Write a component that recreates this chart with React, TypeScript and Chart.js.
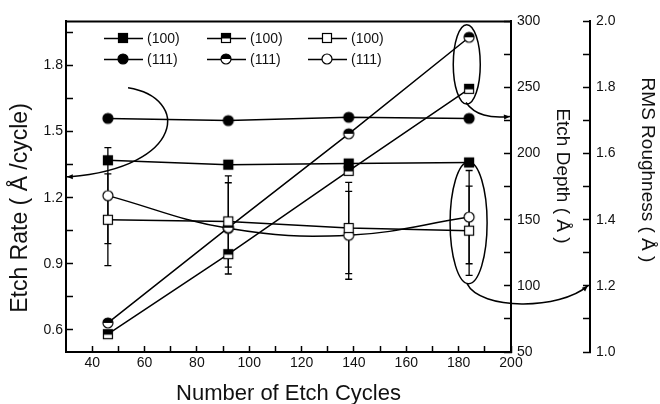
import React, { useEffect, useRef } from 'react';
import { Chart, registerables } from 'chart.js';

Chart.register(...registerables);

// ---------- data ----------
const cycles = [46, 92, 138, 184];
const rate100 = [1.37, 1.35, 1.355, 1.36];
const rate111 = [1.56, 1.55, 1.565, 1.56];
const depth100 = [63.5, 124, 187, 249];
const depth111 = [72, 144, 215, 288];
const rms100 = [1.4, 1.395, 1.375, 1.367];
const rms100Err = [0.139, 0.138, 0.138, 0.135];
const rms111 = [1.473, 1.374, 1.353, 1.408];
const rms111Err = [0.145, 0.138, 0.133, 0.141];

const seriesLabels = ['(100)', '(111)'];

const xMajorTicks = [40, 60, 80, 100, 120, 140, 160, 180, 200];
const xMinorTicks = [50, 70, 90, 110, 130, 150, 170, 190];
const rateMajorTicks = [0.6, 0.9, 1.2, 1.5, 1.8];
const rateMinorTicks = [0.75, 1.05, 1.35, 1.65, 1.95];
const depthMajorTicks = [50, 100, 150, 200, 250, 300];
const depthMinorTicks = [75, 125, 175, 225, 275];
const rmsMajorTicks = [1.0, 1.2, 1.4, 1.6, 1.8, 2.0];
const rmsMinorTicks = [1.1, 1.3, 1.5, 1.7, 1.9];

const xTitle = 'Number of Etch Cycles';
const rateTitle = 'Etch Rate ( Å /cycle)';
const depthTitle = 'Etch Depth ( Å )';
const rmsTitle = 'RMS Roughness ( Å )';

const FONT = '"Liberation Sans", Arial, Helvetica, sans-serif';
const INK = '#111';

// ---------- markers ----------
function makeMarker(kind: string): HTMLCanvasElement {
  const c = document.createElement('canvas');
  c.width = 14;
  c.height = 14;
  const g = c.getContext('2d')!;
  g.lineWidth = 1.2;
  g.strokeStyle = '#000';
  if (kind.startsWith('sq')) {
    g.fillStyle = '#fff';
    g.fillRect(2, 2, 10, 10);
    g.fillStyle = '#000';
    if (kind === 'sqFilled') g.fillRect(2, 2, 10, 10);
    if (kind === 'sqHalf') g.fillRect(2, 2, 10, 5.5);
    g.strokeRect(2.5, 2.5, 9, 9);
  } else {
    g.beginPath();
    g.arc(7, 7, 5, 0, Math.PI * 2);
    g.fillStyle = kind === 'ciFilled' ? '#000' : '#fff';
    g.fill();
    if (kind === 'ciHalf') {
      g.beginPath();
      g.arc(7, 7, 5, Math.PI, 0);
      g.closePath();
      g.fillStyle = '#000';
      g.fill();
    }
    g.beginPath();
    g.arc(7, 7, 5, 0, Math.PI * 2);
    g.stroke();
  }
  return c;
}

function tickSetup(major: number[], minor: number[], fmt: (v: number) => string) {
  return {
    afterBuildTicks: (axis: any) => {
      axis.ticks = [...major, ...minor].sort((a, b) => a - b).map((v) => ({ value: v }));
    },
    callback: (value: number) =>
      major.some((m) => Math.abs(m - value) < 1e-9) ? fmt(value) : '',
  };
}

function arrowHead(ctx: CanvasRenderingContext2D, x: number, y: number, ang: number, len = 7, half = 3) {
  ctx.beginPath();
  ctx.moveTo(x, y);
  ctx.lineTo(x - len * Math.cos(ang) + half * Math.sin(ang), y - len * Math.sin(ang) - half * Math.cos(ang));
  ctx.lineTo(x - len * Math.cos(ang) - half * Math.sin(ang), y - len * Math.sin(ang) + half * Math.cos(ang));
  ctx.closePath();
  ctx.fill();
}

const errorBarPlugin = {
  id: 'errorBars',
  beforeDatasetsDraw(chart: any) {
    const ctx = chart.ctx;
    const xs = chart.scales.x;
    ctx.save();
    ctx.strokeStyle = '#000';
    ctx.lineWidth = 1.3;
    chart.data.datasets.forEach((ds: any) => {
      if (!ds.errors) return;
      const ys = chart.scales[ds.yAxisID];
      ds.data.forEach((p: any, i: number) => {
        const px = xs.getPixelForValue(p.x);
        const top = ys.getPixelForValue(p.y + ds.errors[i]);
        const bot = ys.getPixelForValue(p.y - ds.errors[i]);
        ctx.beginPath();
        ctx.moveTo(px, top);
        ctx.lineTo(px, bot);
        ctx.moveTo(px - 3.5, top);
        ctx.lineTo(px + 3.5, top);
        ctx.moveTo(px - 3.5, bot);
        ctx.lineTo(px + 3.5, bot);
        ctx.stroke();
      });
    });
    ctx.restore();
  },
};

const decorPlugin = {
  id: 'decor',
  afterDraw(chart: any) {
    const ctx: CanvasRenderingContext2D = chart.ctx;
    const ca = chart.chartArea;
    const xs = chart.scales.x;
    const ys = chart.scales.y;
    const P = (x: number, v: number) => [xs.getPixelForValue(x), ys.getPixelForValue(v)];
    ctx.save();
    // top frame line
    ctx.strokeStyle = '#000';
    ctx.lineWidth = 2;
    ctx.beginPath();
    ctx.moveTo(ca.left - 1, ca.top);
    ctx.lineTo(ca.right + 1, ca.top);
    ctx.stroke();

    // legend
    const ds = chart.data.datasets;
    ctx.font = `14px ${FONT}`;
    ctx.textBaseline = 'middle';
    ctx.fillStyle = INK;
    ds.forEach((d: any, i: number) => {
      const col = i % 3;
      const row = Math.floor(i / 3);
      const x0 = ca.left + [38, 141, 242][col];
      const y0 = ca.top + 17 + row * 21;
      ctx.strokeStyle = '#000';
      ctx.lineWidth = 1.5;
      ctx.beginPath();
      ctx.moveTo(x0, y0);
      ctx.lineTo(x0 + 39, y0);
      ctx.stroke();
      const img = d.pointStyle as HTMLCanvasElement;
      ctx.drawImage(img, Math.round(x0 + 19 - img.width / 2), Math.round(y0 - img.height / 2));
      ctx.fillText(d.label, x0 + 43, y0 + 1);
    });

    // annotations
    ctx.strokeStyle = '#000';
    ctx.fillStyle = '#000';
    ctx.lineWidth = 1.5;
    // left arc with arrow to etch-rate axis
    {
      const a = P(53.7, 1.699), b = P(77.4, 1.654), c = P(75.5, 1.34), d = P(31.5, 1.295);
      const tip = P(30.3, 1.295);
      ctx.beginPath();
      ctx.moveTo(a[0], a[1]);
      ctx.bezierCurveTo(b[0], b[1], c[0], c[1], d[0], d[1]);
      ctx.lineTo(tip[0], tip[1]);
      ctx.stroke();
      arrowHead(ctx, tip[0], tip[1], Math.PI, 6, 2.5);
    }
    // top-right ellipse + arrow to depth axis
    {
      const c = P(183.1, 1.805);
      const rx = xs.getPixelForValue(183.1 + 5.16) - c[0];
      const ry = c[1] - ys.getPixelForValue(1.805 + 0.18);
      ctx.beginPath();
      ctx.ellipse(c[0], c[1], rx, ry, 0, 0, Math.PI * 2);
      ctx.stroke();
      const a = P(182.8, 1.632), b = P(186.3, 1.573), cc = P(192.0, 1.56), d = P(199.6, 1.569);
      ctx.beginPath();
      ctx.moveTo(a[0], a[1]);
      ctx.bezierCurveTo(b[0], b[1], cc[0], cc[1], d[0], d[1]);
      ctx.stroke();
      arrowHead(ctx, d[0], d[1], Math.atan2(d[1] - cc[1], d[0] - cc[0]), 6, 2.5);
    }
    // bottom-right ellipse + arrow to RMS axis
    {
      const c = P(183.8, 1.086);
      const rx = xs.getPixelForValue(183.8 + 7.07) - c[0];
      const ry = c[1] - ys.getPixelForValue(1.086 + 0.276);
      ctx.beginPath();
      ctx.ellipse(c[0], c[1], rx, ry, 0, 0, Math.PI * 2);
      ctx.stroke();
      const a = P(183.2, 0.81), b = P(188.2, 0.689), cc = P(218.7, 0.689), d = P(229.4, 0.801);
      ctx.beginPath();
      ctx.moveTo(a[0], a[1]);
      ctx.bezierCurveTo(b[0], b[1], cc[0], cc[1], d[0], d[1]);
      ctx.stroke();
      arrowHead(ctx, d[0], d[1], Math.atan2(d[1] - cc[1], d[0] - cc[0]), 6, 2.5);
    }

    // axis titles
    ctx.fillStyle = INK;
    ctx.textAlign = 'center';
    ctx.textBaseline = 'middle';
    ctx.font = `22px ${FONT}`;
    ctx.fillText(xTitle, (ca.left + ca.right) / 2, 394);
    ctx.save();
    ctx.translate(21, 208);
    ctx.rotate(-Math.PI / 2);
    ctx.font = `23px ${FONT}`;
    ctx.fillText(rateTitle, 0, 0);
    ctx.restore();
    ctx.save();
    ctx.translate(562, 176);
    ctx.rotate(Math.PI / 2);
    ctx.font = `19px ${FONT}`;
    ctx.fillText(depthTitle, 0, 0);
    ctx.restore();
    ctx.save();
    ctx.translate(647, 170);
    ctx.rotate(Math.PI / 2);
    ctx.font = `19px ${FONT}`;
    ctx.fillText(rmsTitle, 0, 0);
    ctx.restore();

    ctx.restore();
  },
};

export default function App() {
  const ref = useRef<HTMLCanvasElement | null>(null);
  useEffect(() => {
    const canvas = ref.current!;
    const mk = {
      sqFilled: makeMarker('sqFilled'),
      sqHalf: makeMarker('sqHalf'),
      sqOpen: makeMarker('sqOpen'),
      ciFilled: makeMarker('ciFilled'),
      ciHalf: makeMarker('ciHalf'),
      ciOpen: makeMarker('ciOpen'),
    };
    const pts = (ys: number[]) => cycles.map((x, i) => ({ x, y: ys[i] }));
    const base = {
      borderColor: '#000',
      backgroundColor: '#000',
      borderWidth: 1.5,
      pointRadius: 5,
      tension: 0,
      fill: false,
    };
    const axisCommon = (tl: number) => ({
      border: { display: true, color: '#000', width: 2 },
      grid: { drawOnChartArea: false, drawTicks: true, tickLength: tl, tickWidth: 1.5, tickColor: '#000' },
    });
    const xT = tickSetup(xMajorTicks, xMinorTicks, (v) => String(v));
    const rT = tickSetup(rateMajorTicks, rateMinorTicks, (v) => v.toFixed(1));
    const dT = tickSetup(depthMajorTicks, depthMinorTicks, (v) => String(v));
    const mT = tickSetup(rmsMajorTicks, rmsMinorTicks, (v) => v.toFixed(1));
    const tickFont = { family: FONT, size: 14 };

    const chart = new Chart(canvas, {
      type: 'line',
      data: {
        datasets: [
          { ...base, label: seriesLabels[0], data: pts(rate100), yAxisID: 'y', pointStyle: mk.sqFilled },
          { ...base, label: seriesLabels[0], data: pts(depth100), yAxisID: 'yDepth', pointStyle: mk.sqHalf },
          { ...base, label: seriesLabels[0], data: pts(rms100), yAxisID: 'yRms', pointStyle: mk.sqOpen, errors: rms100Err },
          { ...base, label: seriesLabels[1], data: pts(rate111), yAxisID: 'y', pointStyle: mk.ciFilled },
          { ...base, label: seriesLabels[1], data: pts(depth111), yAxisID: 'yDepth', pointStyle: mk.ciHalf },
          { ...base, label: seriesLabels[1], data: pts(rms111), yAxisID: 'yRms', pointStyle: mk.ciOpen, errors: rms111Err, tension: 0.4 },
        ] as any,
      },
      options: {
        animation: false,
        responsive: true,
        maintainAspectRatio: false,
        events: [],
        layout: { padding: { top: 19, left: 0, right: 0, bottom: 0 }, autoPadding: false } as any,
        plugins: { legend: { display: false }, tooltip: { enabled: false }, title: { display: false } },
        scales: {
          x: {
            type: 'linear',
            position: 'bottom',
            min: 30,
            max: 200,
            ...axisCommon(-6),
            afterBuildTicks: xT.afterBuildTicks,
            afterFit: (s: any) => { s.height = 52; },
            ticks: { callback: xT.callback, autoSkip: false, maxRotation: 0, padding: 9, color: INK, font: tickFont },
          },
          y: {
            type: 'linear',
            position: 'left',
            min: 0.5,
            max: 2.0,
            ...axisCommon(-7),
            afterBuildTicks: rT.afterBuildTicks,
            afterFit: (s: any) => { s.width = 66; },
            ticks: { callback: rT.callback, autoSkip: false, padding: 10, color: INK, font: tickFont },
          },
          yDepth: {
            type: 'linear',
            position: 'right',
            min: 50,
            max: 300,
            ...axisCommon(-7),
            afterBuildTicks: dT.afterBuildTicks,
            afterFit: (s: any) => { s.width = 79; },
            ticks: { callback: dT.callback, autoSkip: false, padding: 13, color: INK, font: tickFont },
          },
          yRms: {
            type: 'linear',
            position: 'right',
            min: 1.0,
            max: 2.0,
            ...axisCommon(-7),
            afterBuildTicks: mT.afterBuildTicks,
            afterFit: (s: any) => { s.width = 70; },
            ticks: { callback: mT.callback, autoSkip: false, padding: 13, color: INK, font: tickFont },
          },
        } as any,
      },
      plugins: [errorBarPlugin, decorPlugin],
    });
    return () => chart.destroy();
  }, []);

  return (
    <div style={{ position: 'fixed', left: 0, top: 0, width: 660, height: 404, background: '#fff' }}>
      <canvas ref={ref} />
    </div>
  );
}
